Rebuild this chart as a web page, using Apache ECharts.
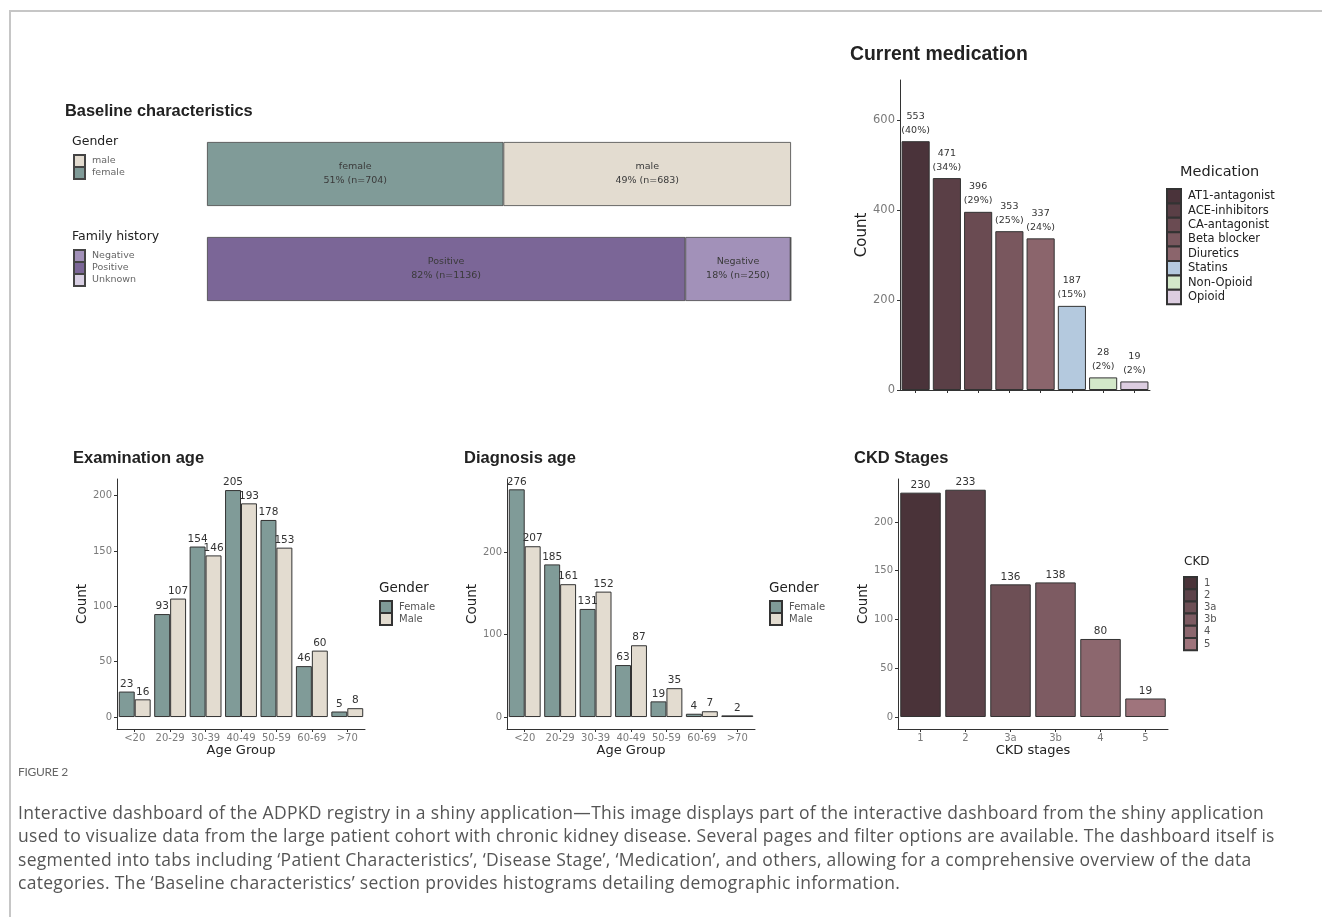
<!DOCTYPE html>
<html>
<head>
<meta charset="utf-8">
<script src="https://cdn.jsdelivr.net/npm/echarts@6/dist/echarts.min.js"></script>
<style>
  html, body { margin: 0; padding: 0; background: #fff; width: 1322px; height: 917px; overflow: hidden; }
  #frame { position: absolute; left: 9px; top: 10px; width: 1340px; height: 940px; border-top: 2px solid #c6c6c6; border-left: 2px solid #c6c6c6; }
  #chart { position: absolute; left: 0; top: 0; width: 1322px; height: 917px; }
  #fig { position: absolute; left: 18px; top: 764px; font-family: Lato; font-size: 12px; color: #666; letter-spacing: -0.3px; }
  #cap { position: absolute; left: 18px; top: 801px; font-family: "Open Sans"; font-size: 17.5px; line-height: 23.3px; color: #555; white-space: nowrap; letter-spacing: 0.3px; }
</style>
</head>
<body>
<div id="frame"></div>
<div id="chart"></div>
<div id="fig">FIGURE 2</div>
<div id="cap">
  <div>Interactive dashboard of the ADPKD registry in a shiny application—This image displays part of the interactive dashboard from the shiny application</div>
  <div>used to visualize data from the large patient cohort with chronic kidney disease. Several pages and filter options are available. The dashboard itself is</div>
  <div>segmented into tabs including ‘Patient Characteristics’, ‘Disease Stage’, ‘Medication’, and others, allowing for a comprehensive overview of the data</div>
  <div>categories. The ‘Baseline characteristics’ section provides histograms detailing demographic information.</div>
</div>
<script>
  // baseline characteristics
  var genderNames = ['female', 'male'];
  var genderCounts = [704, 683];
  var familyNames = ['Positive', 'Negative', 'Unknown'];
  var familyCounts = [1136, 250, 1];

  // current medication
  var medNames = ['AT1-antagonist', 'ACE-inhibitors', 'CA-antagonist', 'Beta blocker', 'Diuretics', 'Statins', 'Non-Opioid', 'Opioid'];
  var medCounts = [553, 471, 396, 353, 337, 187, 28, 19];
  var medPct = [40, 34, 29, 25, 24, 15, 2, 2];

  // age histograms
  var ageGroups = ['<20', '20-29', '30-39', '40-49', '50-59', '60-69', '>70'];
  var examFemale = [23, 93, 154, 205, 178, 46, 5];
  var examMale = [16, 107, 146, 193, 153, 60, 8];
  var diagFemale = [276, 185, 131, 63, 19, 4, 2];
  var diagMale = [207, 161, 152, 87, 35, 7, null];

  // CKD stages
  var ckdStages = ['1', '2', '3a', '3b', '4', '5'];
  var ckdCounts = [230, 233, 136, 138, 80, 19];

  var genderColors = {female: '#809b98', male: '#e3dcd0', Female: '#809b98', Male: '#e3dcd0'};
  var familyColors = {Positive: '#7b6697', Negative: '#a291b9', Unknown: '#d8cfe3'};
  var medColors = ['#4a333a', '#5a3f46', '#6a4b52', '#79575e', '#8b656c', '#b4c9de', '#d3e8c9', '#dccde0'];
  var ckdColors = ['#4a3339', '#5d434a', '#6d4f55', '#7d5b62', '#8c676e', '#9f747c'];

  var tickFont = 'DejaVu Sans';
  var titleFont = 'Liberation Sans';
  var W = 1322, H = 917;

  var grids = [], xAxes = [], yAxes = [], series = [];

  function countAxis(gi, min, max, ticks, labelSize, nameGap, nameSize) {
    return {
      type: 'value', gridIndex: gi, min: min, max: max,
      name: 'Count', nameLocation: 'middle', nameGap: nameGap, nameRotate: 90,
      nameTextStyle: {fontFamily: tickFont, fontSize: nameSize, color: '#222'},
      axisLine: {show: true, lineStyle: {color: '#333', width: 1}},
      axisTick: {show: true, length: 3, customValues: ticks, lineStyle: {color: '#333'}},
      axisLabel: {customValues: ticks, fontFamily: tickFont, fontSize: labelSize, color: '#7a7a7a', margin: 5},
      splitLine: {show: false}
    };
  }

  function catAxis(gi, data, name, showLabels) {
    return {
      type: 'category', gridIndex: gi, data: data,
      name: name, nameLocation: 'middle', nameGap: 13,
      nameTextStyle: {fontFamily: tickFont, fontSize: 13, color: '#222'},
      axisLine: {show: true, onZero: false, lineStyle: {color: '#333', width: 1}},
      axisTick: {show: true, alignWithLabel: true, interval: 0, length: 3, lineStyle: {color: '#333'}},
      axisLabel: {show: showLabels, interval: 0, fontFamily: tickFont, fontSize: 10, color: '#7a7a7a', margin: 4},
      splitLine: {show: false}
    };
  }

  var barLabel = {show: true, position: 'top', distance: 2, fontFamily: tickFont, fontSize: 10.5, color: '#333'};

  // ---- Baseline characteristics (stacked proportion bars)
  var gTotal = genderCounts.reduce(function (a, b) { return a + b; }, 0);
  var fTotal = familyCounts.reduce(function (a, b) { return a + b; }, 0);
  grids.push({left: 207, right: W - 791, top: 126.5, bottom: H - 316.5});
  xAxes.push({type: 'value', gridIndex: 0, min: 0, max: 1, show: false});
  yAxes.push({type: 'category', gridIndex: 0, data: ['Gender', 'Family history'], inverse: true, show: false});

  function baseSeries(names, counts, total, colors, row) {
    names.forEach(function (nm, i) {
      var frac = counts[i] / total;
      var data = ['-', '-'];
      data[row] = frac;
      series.push({
        type: 'bar', name: nm, stack: 'base', xAxisIndex: 0, yAxisIndex: 0, barWidth: 64,
        data: data,
        itemStyle: {color: colors[nm], borderColor: '#444', borderWidth: 0.8},
        label: {
          show: frac > 0.05, position: 'inside', fontFamily: tickFont, fontSize: 9.5, lineHeight: 14, color: '#3a3a3a',
          formatter: nm + '\n' + Math.round(frac * 100) + '% (n=' + counts[i] + ')'
        }
      });
    });
  }
  baseSeries(genderNames, genderCounts, gTotal, genderColors, 0);
  baseSeries(familyNames, familyCounts, fTotal, familyColors, 1);

  // ---- Current medication
  grids.push({left: 900, right: W - 1150, top: 80, bottom: H - 390});
  xAxes.push(catAxis(1, medNames, '', false));
  yAxes.push(countAxis(1, 0, 689, [0, 200, 400, 600], 11.5, 23, 15));
  medNames.forEach(function (nm, i) {
    series.push({
      type: 'bar', name: nm, stack: 'med', xAxisIndex: 1, yAxisIndex: 1, barCategoryGap: '10%',
      data: medNames.map(function (_, j) { return j === i ? medCounts[i] : '-'; }),
      itemStyle: {color: medColors[i], borderColor: '#333', borderWidth: 1},
      label: {show: true, position: 'top', distance: 4, fontFamily: tickFont, fontSize: 9.5, lineHeight: 14, color: '#333',
        formatter: function (p) { return p.value + '\n(' + medPct[p.dataIndex] + '%)'; }}
    });
  });

  // ---- Examination / diagnosis age (dodged bars by gender)
  function agePanel(left, right, yMin, yMax, ticks, female, male) {
    var gi = grids.length;
    grids.push({left: left, right: W - right, top: 479, bottom: H - 729});
    var xi = xAxes.length;
    xAxes.push(catAxis(gi, ageGroups, 'Age Group', true));
    xAxes.push({type: 'category', gridIndex: gi, data: ageGroups, show: false});
    var yi = yAxes.length;
    yAxes.push(countAxis(gi, yMin, yMax, ticks, 10, 24, 13.5));
    var pairs = [['Female', female, male], ['Male', male, female]];
    pairs.forEach(function (p) {
      // both genders present: dodged side by side
      series.push({
        type: 'bar', name: p[0], xAxisIndex: xi, yAxisIndex: yi, barGap: '0%', barCategoryGap: '10%',
        data: p[1].map(function (v, k) { return (v != null && p[2][k] != null) ? v : '-'; }),
        itemStyle: {color: genderColors[p[0]], borderColor: '#333', borderWidth: 1},
        label: barLabel
      });
      // only one gender present: full width bar
      series.push({
        type: 'bar', name: p[0], stack: 'solo', xAxisIndex: xi + 1, yAxisIndex: yi, barCategoryGap: '10%',
        data: p[1].map(function (v, k) { return (v != null && p[2][k] == null) ? v : '-'; }),
        itemStyle: {color: genderColors[p[0]], borderColor: '#333', borderWidth: 1},
        label: barLabel
      });
    });
  }
  agePanel(117, 365, -10.8, 215, [0, 50, 100, 150, 200], examFemale, examMale);
  agePanel(507, 755, -14.5, 288.5, [0, 100, 200], diagFemale, diagMale);

  // ---- CKD stages
  var ci = grids.length;
  grids.push({left: 898, right: W - 1168, top: 479, bottom: H - 729});
  var cx = xAxes.length;
  xAxes.push(catAxis(ci, ckdStages, 'CKD stages', true));
  var cy = yAxes.length;
  yAxes.push(countAxis(ci, -12.3, 244, [0, 50, 100, 150, 200], 10, 21, 13.5));
  ckdStages.forEach(function (st, i) {
    series.push({
      type: 'bar', name: st, stack: 'ckd', xAxisIndex: cx, yAxisIndex: cy, barCategoryGap: '10%',
      data: ckdStages.map(function (_, j) { return j === i ? ckdCounts[i] : '-'; }),
      itemStyle: {color: ckdColors[i], borderColor: '#333', borderWidth: 1},
      label: barLabel
    });
  });

  function heading(text, left, top, size) {
    return {text: text, left: left, top: top, padding: 0,
      textStyle: {fontFamily: titleFont, fontWeight: 'bold', fontSize: size, color: '#222'}};
  }
  function legendTitle(text, left, top, size) {
    return {text: text, left: left, top: top, padding: 0,
      textStyle: {fontFamily: tickFont, fontWeight: 'normal', fontSize: size, color: '#222'}};
  }
  function legend(data, left, top, w, h, size, color) {
    return {data: data, left: left, top: top, orient: 'vertical', itemWidth: w, itemHeight: h, itemGap: -2,
      padding: 0, selectedMode: false, icon: 'rect',
      textStyle: {fontFamily: tickFont, fontSize: size, lineHeight: h, color: color, padding: [0, 0, 0, 2]}};
  }

  var chart = echarts.init(document.getElementById('chart'));
  chart.setOption({
    animation: false,
    backgroundColor: 'transparent',
    title: [
      heading('Baseline characteristics', 65, 103, 16.4),
      heading('Current medication', 850, 45, 19.4),
      heading('Examination age', 73, 450, 16.5),
      heading('Diagnosis age', 464, 450, 16.5),
      heading('CKD Stages', 854, 450, 16.5),
      legendTitle('Gender', 72, 135, 12.5),
      legendTitle('Family history', 72, 230, 12.5),
      legendTitle('Medication', 1180, 165, 14.5),
      legendTitle('Gender', 379, 581, 13.5),
      legendTitle('Gender', 769, 581, 13.5),
      legendTitle('CKD', 1184, 556, 12)
    ],
    legend: [
      legend(['male', 'female'], 73, 154, 11, 12, 9.5, '#666'),
      legend(['Negative', 'Positive', 'Unknown'], 73, 249, 11, 12, 9.5, '#666'),
      legend(medNames, 1166, 188, 14, 14.4, 11.5, '#222'),
      legend(['Female', 'Male'], 379, 600, 12, 12, 10, '#555'),
      legend(['Female', 'Male'], 769, 600, 12, 12, 10, '#555'),
      legend(ckdStages, 1183, 576, 13, 12.2, 10, '#555')
    ],
    grid: grids,
    xAxis: xAxes,
    yAxis: yAxes,
    series: series
  });
</script>
</body>
</html>
